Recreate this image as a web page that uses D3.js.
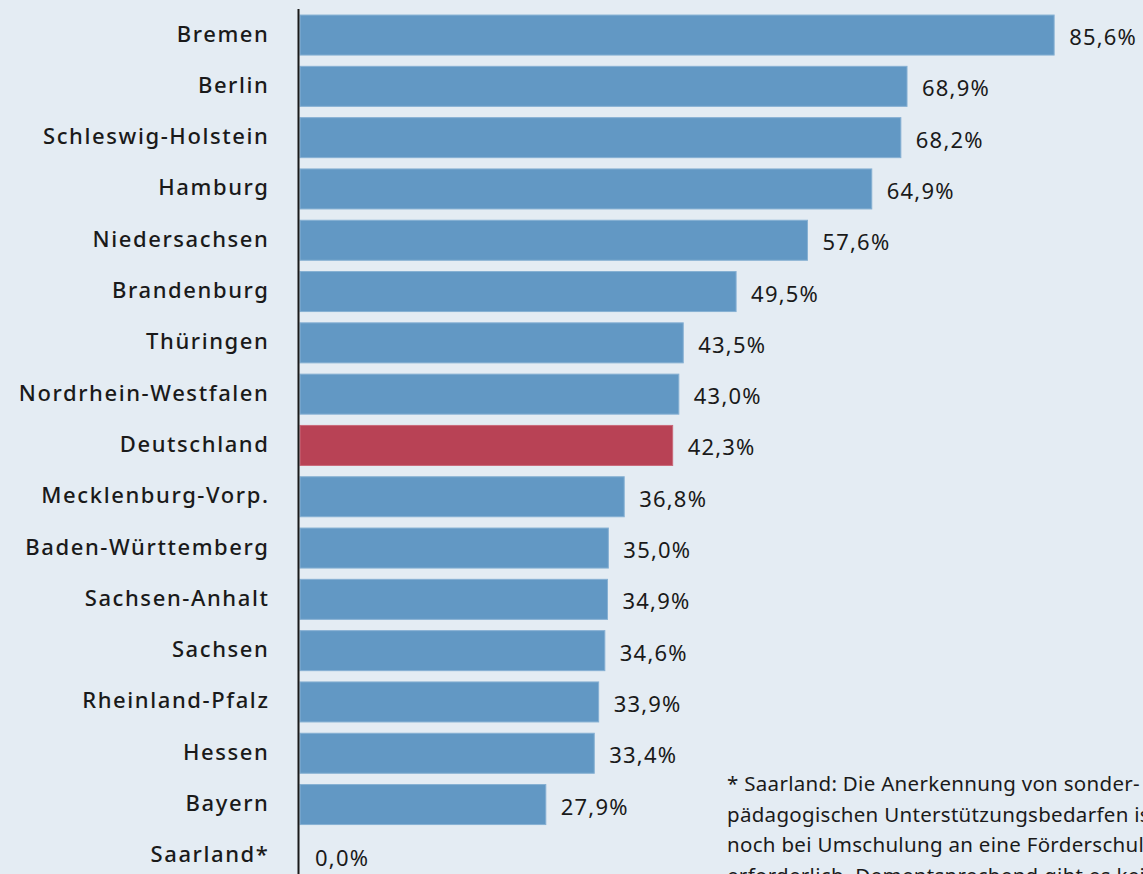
<!DOCTYPE html>
<html>
<head>
<meta charset="utf-8">
<script src="https://cdn.jsdelivr.net/npm/d3@7"></script>
<style>
  body { margin: 0; background: #e4ecf3; }
  svg { display: block; }
  .cat { font-family: "Noto Sans", sans-serif; font-weight: 500; font-size: 22px; letter-spacing: 1.6px; fill: #1a1a1a; }
  .val { font-family: "Noto Sans", sans-serif; font-size: 22px; letter-spacing: 1.2px; fill: #1a1a1a; }
  .note { font-family: "Noto Sans", sans-serif; font-size: 20.5px; letter-spacing: 0.3px; fill: #1a1a1a; }
</style>
</head>
<body>
<svg width="1143" height="874"></svg>
<script>
// Inklusionsanteile nach Land
const laender = ['Bremen', 'Berlin', 'Schleswig-Holstein', 'Hamburg', 'Niedersachsen', 'Brandenburg',
  'Thüringen', 'Nordrhein-Westfalen', 'Deutschland', 'Mecklenburg-Vorp.', 'Baden-Württemberg',
  'Sachsen-Anhalt', 'Sachsen', 'Rheinland-Pfalz', 'Hessen', 'Bayern', 'Saarland*']
const werte = [85.6, 68.9, 68.2, 64.9, 57.6, 49.5, 43.5, 43.0, 42.3, 36.8, 35.0, 34.9, 34.6, 33.9, 33.4, 27.9, 0.0]
const highlight = ['Deutschland']
const fussnote = [
  '* Saarland: Die Anerkennung von sonder-',
  'pädagogischen Unterstützungsbedarfen ist nur',
  'noch bei Umschulung an eine Förderschule',
  'erforderlich. Dementsprechend gibt es keine'
]

const svg = d3.select('svg')
const rows = laender.map((name, i) => ({name, value: werte[i]}))

const x = d3.scaleLinear().domain([0, 100]).range([300, 1181])
const y = d3.scaleBand().domain(laender)
  .range([9.4, 9.4 + laender.length * 51.3])
  .paddingInner(0.22).paddingOuter(0.11)

const fmt = v => d3.format('.1f')(v).replace('.', ',') + '%'

svg.selectAll('rect.bar').data(rows).join('rect')
  .attr('class', 'bar')
  .attr('x', x(0))
  .attr('y', d => y(d.name))
  .attr('width', d => x(d.value) - x(0))
  .attr('height', y.bandwidth())
  .attr('fill', d => highlight.includes(d.name) ? '#b84255' : '#6298c4')
  .attr('stroke', d => highlight.includes(d.name) ? '#c9697a' : '#86b0d3')
  .attr('stroke-width', 1)

svg.selectAll('text.val').data(rows).join('text')
  .attr('class', 'val')
  .attr('x', d => x(d.value) + 15)
  .attr('y', d => y(d.name) + y.bandwidth() / 2 + 1)
  .attr('dominant-baseline', 'central')
  .text(d => fmt(d.value))

svg.selectAll('text.cat').data(rows).join('text')
  .attr('class', 'cat')
  .attr('x', 269.5)
  .attr('y', d => y(d.name) + y.bandwidth() / 2 - 2.5)
  .attr('dominant-baseline', 'central')
  .attr('text-anchor', 'end')
  .text(d => d.name)

svg.append('line')
  .attr('x1', 298.5).attr('x2', 298.5)
  .attr('y1', 9).attr('y2', 874)
  .attr('stroke', '#1a1a1a').attr('stroke-width', 2)

svg.selectAll('text.note').data(fussnote).join('text')
  .attr('class', 'note')
  .attr('x', 727)
  .attr('y', (d, i) => 791 + i * 30.5)
  .text(d => d)
</script>
</body>
</html>
